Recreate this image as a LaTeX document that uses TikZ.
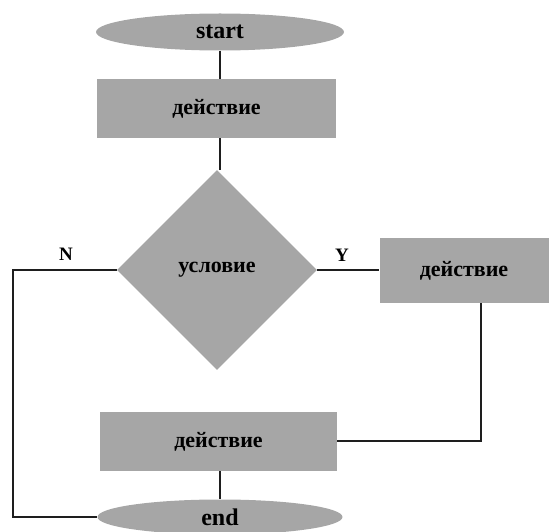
\documentclass[tikz,border=0pt]{standalone}
\usepackage{fontspec}
\setmainfont{Liberation Serif}
\usetikzlibrary{shapes.geometric}
\definecolor{shapegray}{RGB}{166,166,166}
\definecolor{linegray}{RGB}{30,30,30}
\begin{document}
\begin{tikzpicture}[x=1pt,y=-1pt,
  every node/.style={font=\bfseries},
  terminal/.style={ellipse,fill=shapegray,inner sep=0,minimum width=248pt,minimum height=37pt,font=\bfseries\fontsize{24}{24}\selectfont},
  actionbox/.style={rectangle,fill=shapegray,inner sep=0,font=\bfseries\fontsize{22}{22}\selectfont},
  decision/.style={diamond,fill=shapegray,inner sep=0,minimum width=200pt,minimum height=200pt,font=\bfseries\fontsize{22}{22}\selectfont},
  link/.style={draw=linegray,line width=2.4pt},
  branch/.style={font=\bfseries\fontsize{19}{19}\selectfont}]
  \useasboundingbox (0,0) rectangle (550,532);
  % flowchart blocks
  \node[terminal] (start) at (220,32) {start};
  \node[actionbox,minimum width=239pt,minimum height=59pt] (act1) at (216.5,108.5) {действие};
  \node[decision] (cond) at (217,270) {условие};
  \node[actionbox,minimum width=169pt,minimum height=65pt] (act2) at (464,270.5) {действие};
  \node[actionbox,minimum width=237pt,minimum height=59pt] (act3) at (218.5,441.5) {действие};
  \node[terminal,minimum width=245pt,minimum height=35pt] (stop) at (220,517) {end};
  % turning points of the branches
  \coordinate (nturnA) at (13,270);
  \coordinate (nturnB) at (13,517);
  \coordinate (yturnA) at (481,441);
  % connectors
  \draw[link] (start.south) -- (start.south |- act1.north);
  \draw[link] (act1.south -| start.south) -- (cond.north -| start.south);
  \draw[link] (cond.east) -- (act2.west |- cond.east);
  \draw[link] (act2.south -| yturnA) -- (yturnA) -- (act3.east |- yturnA);
  \draw[link] (act3.south -| stop.north) -- (stop.north);
  \draw[link] (cond.west) -- (nturnA) -- (nturnB) -- (stop.west);
  % branch labels
  \node[branch] (nlab) at (66,254) {N};
  \node[branch] (ylab) at (342,255) {Y};
\end{tikzpicture}
\end{document}
